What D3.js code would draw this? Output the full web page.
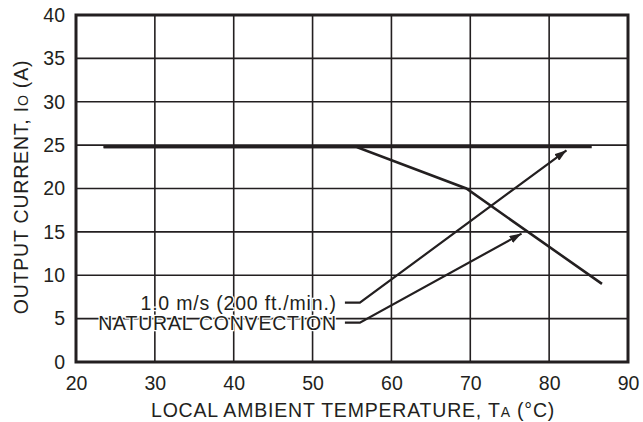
<!DOCTYPE html>
<html><head><meta charset="utf-8">
<script src="https://cdn.jsdelivr.net/npm/d3@7"></script>
<style>body{margin:0;background:#fff}svg{display:block}text{font-family:"Liberation Sans",Arial,sans-serif;fill:#231f20}</style>
</head><body><svg id="c" width="643" height="422"></svg>
<script>
const xTicks = [20, 30, 40, 50, 60, 70, 80, 90];
const yTicks = [0, 5, 10, 15, 20, 25, 30, 35, 40];
const airTemp = [23.5, 85.4];
const airCurrent = [24.8, 24.8];
const natTemp = [23.5, 55.5, 69.5, 86.7];
const natCurrent = [24.8, 24.8, 20, 9];
const airLabel = "1.0 m/s (200 ft./min.)";
const natLabel = "NATURAL CONVECTION";
const airLeaderT = [54.1, 56.0, 82.2];
const airLeaderI = [6.84, 6.84, 24.4];
const natLeaderT = [54.1, 56.0, 76.5];
const natLeaderI = [4.53, 4.53, 14.8];

const svg = d3.select("#c");
const ink = "#231f20";
const x = d3.scaleLinear().domain([20, 90]).range([76, 628]);
const y = d3.scaleLinear().domain([0, 40]).range([362, 15]);
const FS = 19.5, LS = 0.8;

// grid
svg.append("g").selectAll("line").data(xTicks.slice(1, -1)).join("line")
  .attr("x1", d => x(d)).attr("x2", d => x(d)).attr("y1", y(40)).attr("y2", y(0))
  .attr("stroke", ink).attr("stroke-width", 1.6);
svg.append("g").selectAll("line").data(yTicks.slice(1, -1)).join("line")
  .attr("y1", d => y(d)).attr("y2", d => y(d)).attr("x1", x(20)).attr("x2", x(90))
  .attr("stroke", ink).attr("stroke-width", 1.6);

// axes (labels only)
const xa = svg.append("g").attr("transform", `translate(0,${y(0)})`)
  .call(d3.axisBottom(x).tickValues(xTicks).tickSize(0).tickPadding(14));
const ya = svg.append("g").attr("transform", `translate(${x(20)},0)`)
  .call(d3.axisLeft(y).tickValues(yTicks).tickSize(0).tickPadding(11));
[xa, ya].forEach(a => {
  a.select(".domain").remove();
  a.selectAll("text").attr("font-size", FS).attr("font-family", "Liberation Sans, Arial, sans-serif").attr("fill", ink);
});

// border
svg.append("rect").attr("x", x(20)).attr("y", y(40)).attr("width", x(90) - x(20)).attr("height", y(0) - y(40))
  .attr("fill", "none").attr("stroke", ink).attr("stroke-width", 3);

// curves
const line = d3.line();
svg.append("path").attr("d", line(airTemp.map((t, i) => [x(t), y(airCurrent[i])])))
  .attr("fill", "none").attr("stroke", ink).attr("stroke-width", 2.6);
svg.append("path").attr("d", line(natTemp.map((t, i) => [x(t), y(natCurrent[i])])))
  .attr("fill", "none").attr("stroke", ink).attr("stroke-width", 2.6);

// leader arrows
svg.append("defs").append("marker").attr("id", "arr").attr("viewBox", "0 0 12 8")
  .attr("refX", 12).attr("refY", 4).attr("markerWidth", 12).attr("markerHeight", 8)
  .attr("markerUnits", "userSpaceOnUse").attr("orient", "auto")
  .append("path").attr("d", "M0,0L12,4L0,8Z").attr("fill", ink);
[[airLeaderT, airLeaderI], [natLeaderT, natLeaderI]].forEach(([ts, is]) => {
  svg.append("path").attr("d", line(ts.map((t, i) => [x(t), y(is[i])])))
    .attr("fill", "none").attr("stroke", ink).attr("stroke-width", 2.2)
    .attr("marker-end", "url(#arr)");
});

// labels with halo
function label(txt, t, i) {
  svg.append("text").attr("x", x(t) - 8).attr("y", y(i) + 7).attr("text-anchor", "end")
    .attr("font-size", FS).attr("letter-spacing", LS)
    .attr("stroke", "#fff").attr("stroke-width", 2.5).attr("paint-order", "stroke")
    .text(txt);
}
label(airLabel, airLeaderT[0], airLeaderI[0]);
label(natLabel, natLeaderT[0], natLeaderI[0]);

// titles
const xt = svg.append("text").attr("x", 151).attr("y", 417).attr("font-size", FS).attr("letter-spacing", LS);
xt.append("tspan").text("LOCAL AMBIENT TEMPERATURE, T");
xt.append("tspan").attr("font-size", 14).text("A");
xt.append("tspan").text(" (°C)");
const yt = svg.append("text").attr("transform", "translate(28,187) rotate(-90)").attr("text-anchor", "middle")
  .attr("font-size", FS).attr("letter-spacing", LS);
yt.append("tspan").text("OUTPUT CURRENT, I");
yt.append("tspan").attr("font-size", 14).text("O");
yt.append("tspan").text(" (A)");
</script></body></html>
